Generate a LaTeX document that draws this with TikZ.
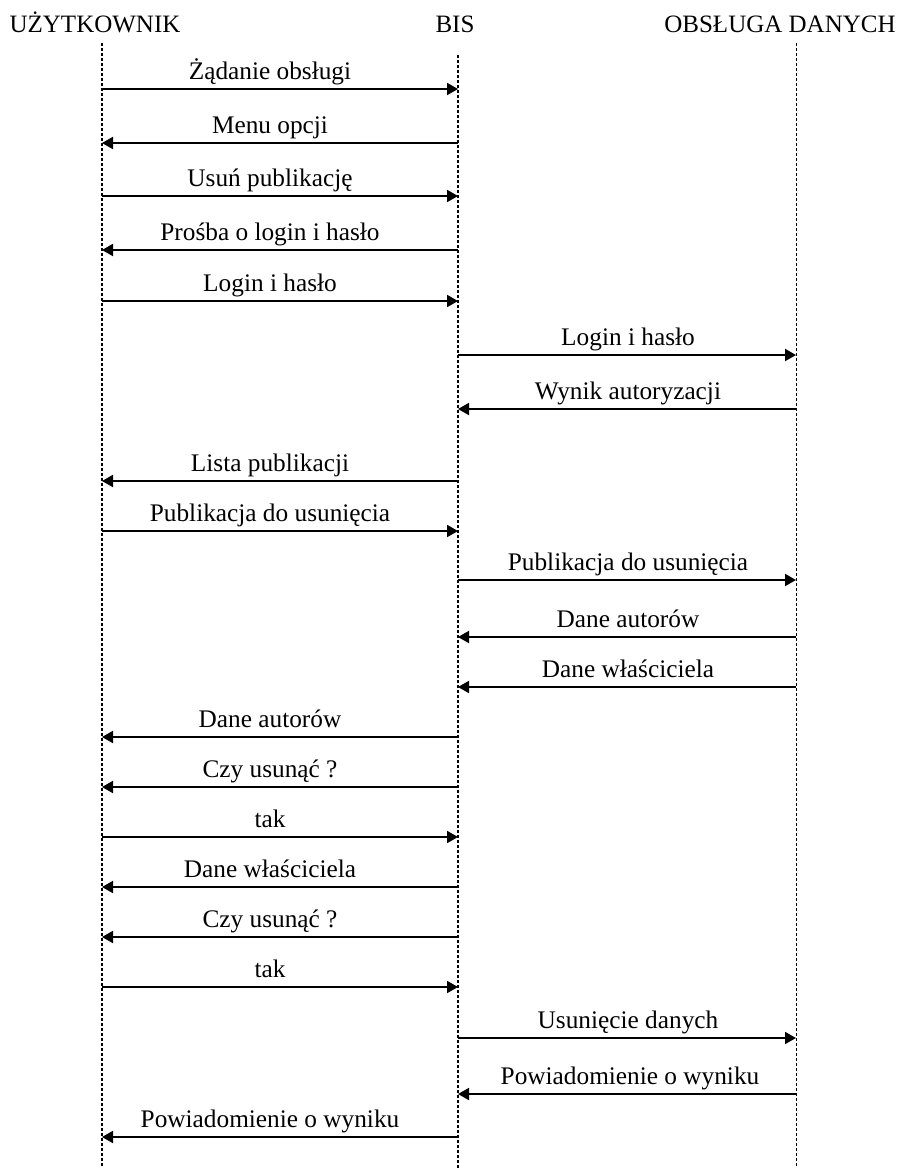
\documentclass[tikz,border=0pt]{standalone}
\usepackage{fontspec}
\setmainfont{Liberation Serif}
\usetikzlibrary{arrows.meta}

\begin{document}
\begin{tikzpicture}[x=1pt,y=-1pt,
  lifeline/.style={line width=1.6pt, dash pattern=on 3pt off 2pt},
  thinlife/.style={line width=0.9pt, dash pattern=on 3pt off 2pt},
  msg/.style={line width=1.9pt, -{Triangle[length=11pt,width=12pt]}},
  lbl/.style={anchor=base, yshift=9.5pt, inner sep=0pt, font=\fontsize{25.3}{30}\selectfont},
  head/.style={anchor=base, inner sep=0pt, font=\fontsize{25}{30}\selectfont}]

\useasboundingbox (0,0) rectangle (900,1168);

% participants
\node[head] (hU) at (95,32) {UŻYTKOWNIK};
\node[head] (hB) at (455,32) {BIS};
\node[head] (hO) at (780,32) {OBSŁUGA DANYCH};

% lifeline ends
\coordinate (Utop) at (102,43);  \coordinate (Ubot) at (102,1168);
\coordinate (Btop) at (458,55);  \coordinate (Bbot) at (458,1168);
\coordinate (Otop) at (796,43);  \coordinate (Obot) at (796,1168);

\draw[lifeline] (Utop) -- (Ubot);
\draw[lifeline] (Btop) -- (Bbot);
\draw[thinlife] (Otop) -- (Obot);

% message anchor points on each lifeline
\foreach \i/\y in {1/89,2/143,3/196,4/250,5/301,6/355,7/409,8/481,9/531,10/580,
                   11/637,12/687,13/737,14/787,15/837,16/887,17/937,18/987,19/1038,20/1094,21/1137}{
  \coordinate (U\i) at (102,\y);
  \coordinate (B\i) at (458,\y);
  \coordinate (O\i) at (796,\y);
}

% messages: number / sender / receiver / label offset / label
\foreach \i/\from/\to/\dx/\txt in {
  1/U/B/-10/{Żądanie obsługi},
  2/B/U/-10/{Menu opcji},
  3/U/B/-10/{Usuń publikację},
  4/B/U/-10/{Prośba o login i hasło},
  5/U/B/-10/{Login i hasło},
  6/B/O/1/{Login i hasło},
  7/O/B/1/{Wynik autoryzacji},
  8/B/U/-10/{Lista publikacji},
  9/U/B/-10/{Publikacja do usunięcia},
  10/B/O/1/{Publikacja do usunięcia},
  11/O/B/1/{Dane autorów},
  12/O/B/1/{Dane właściciela},
  13/B/U/-10/{Dane autorów},
  14/B/U/-10/{Czy usunąć ?},
  15/U/B/-10/{tak},
  16/B/U/-10/{Dane właściciela},
  17/B/U/-10/{Czy usunąć ?},
  18/U/B/-10/{tak},
  19/B/O/1/{Usunięcie danych},
  20/O/B/3/{Powiadomienie o wyniku},
  21/B/U/-10/{Powiadomienie o wyniku}}{
  \draw[msg] (\from\i) -- node[lbl, xshift=\dx pt] {\txt} (\to\i);
}
\end{tikzpicture}
\end{document}
